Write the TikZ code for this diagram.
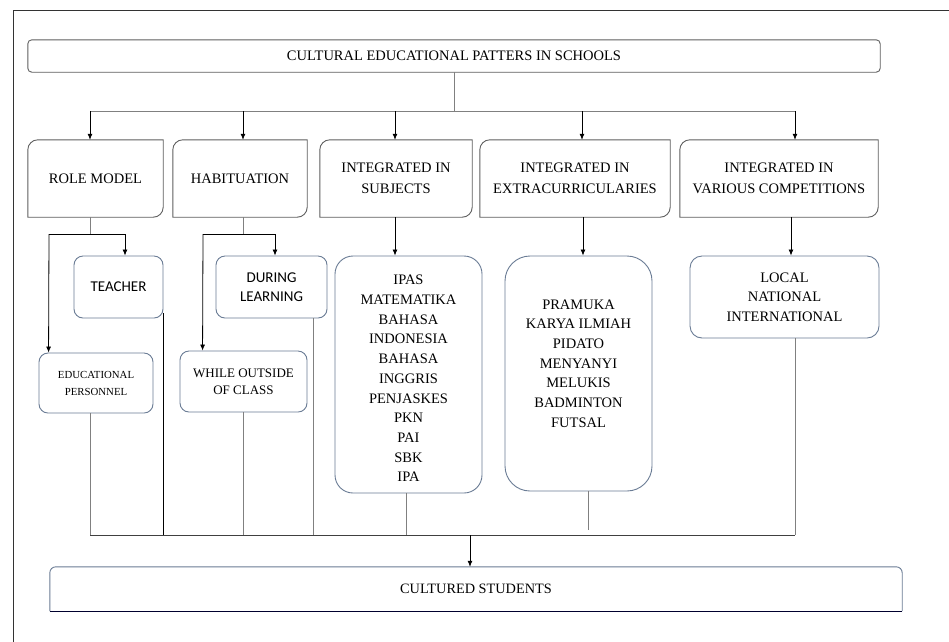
\documentclass[tikz,border=0pt]{standalone}
\usepackage{fontspec}
\setmainfont{Liberation Serif}
\newfontfamily\carl{Carlito}
\usetikzlibrary{arrows.meta}
\definecolor{gline}{HTML}{808080}
\definecolor{bline}{HTML}{5F5F5F}
\definecolor{blueline}{HTML}{6A7C95}
\tikzset{
  conn/.style={draw=gline, line width=0.9pt},
  darkconn/.style={draw=black, line width=0.8pt},
  arr/.style={draw=black, line width=0.8pt, -{Latex[length=6pt,width=5pt]}},
  holder/.style={rectangle, inner sep=0pt, align=center, text=black},
  lvltwo/.style={holder, font=\fontsize{14.5}{21}\selectfont},
  listtxt/.style={holder, font=\fontsize{14.5}{19.7}\selectfont},
}
\newcommand{\diagshape}[2]{% node, radius
  \draw[bline, line width=0.9pt] (#1.south west) -- ([yshift=-#2]#1.north west)
    arc[start angle=180,end angle=90,radius=#2] -- (#1.north east)
    -- ([yshift=#2]#1.south east) arc[start angle=0,end angle=-90,radius=#2] -- cycle;}
\begin{document}
\begin{tikzpicture}[x=1pt,y=1pt]
\useasboundingbox (0,0) rectangle (949,-641);
\fill[white] (0,0) rectangle (949,-641);
% outer frame
\draw[black!80, line width=1pt] (13,-10) rectangle (970,-660);

% top box
\node[holder, minimum width=852, minimum height=32, font=\fontsize{14.5}{16}\selectfont] (top) at (454,-56) {CULTURAL EDUCATIONAL PATTERS IN SCHOOLS};
\draw[bline, line width=0.9pt, rounded corners=4pt] (top.south west) rectangle (top.north east);

% level two
\node[lvltwo, minimum width=135, minimum height=77] (rm) at (95.5,-178.5) {ROLE MODEL};
\node[lvltwo, minimum width=134, minimum height=77] (hab) at (240,-178.5) {HABITUATION};
\node[lvltwo, minimum width=152, minimum height=77] (subj) at (396,-178.5) {INTEGRATED IN\\SUBJECTS};
\node[lvltwo, minimum width=190, minimum height=77] (extra) at (575,-178.5) {INTEGRATED IN\\EXTRACURRICULARIES};
\node[lvltwo, minimum width=198, minimum height=77] (comp) at (779,-178.5) {INTEGRATED IN\\VARIOUS COMPETITIONS};
\diagshape{rm}{10pt}
\diagshape{hab}{10pt}
\diagshape{subj}{10pt}
\diagshape{extra}{10pt}
\diagshape{comp}{10pt}

% level three
\tikzset{lthree/.style={holder, draw=blueline, line width=0.9pt, rounded corners=9pt}}
\node[lthree, minimum width=89, minimum height=62, font=\carl\fontsize{15}{19}\selectfont] (teacher) at (118.5,-287) {TEACHER};
\node[lthree, minimum width=114, minimum height=60, font=\fontsize{10.8}{17}\selectfont] (ep) at (96,-383) {EDUCATIONAL\\PERSONNEL};
\node[lthree, minimum width=111, minimum height=62, font=\carl\fontsize{15}{19}\selectfont] (dl) at (271.5,-287) {DURING\\LEARNING};
\node[lthree, minimum width=127, minimum height=61, font=\fontsize{13}{17}\selectfont] (woc) at (243.5,-381.5) {WHILE OUTSIDE\\OF CLASS};
\node[lthree, rounded corners=18pt, minimum width=147, minimum height=237] (subjlist) at (408.5,-374.5) {};
\node[listtxt] at ([yshift=-4]subjlist.center) {IPAS\\MATEMATIKA\\BAHASA\\INDONESIA\\BAHASA\\INGGRIS\\PENJASKES\\PKN\\PAI\\SBK\\IPA};
\node[lthree, rounded corners=25pt, minimum width=147, minimum height=235] (extralist) at (578.5,-373.5) {};
\node[listtxt] at ([yshift=10]extralist.center) {PRAMUKA\\KARYA ILMIAH\\PIDATO\\MENYANYI\\MELUKIS\\BADMINTON\\FUTSAL};
\node[lthree, rounded corners=12pt, minimum width=189, minimum height=82, font=\fontsize{14.5}{19.7}\selectfont] (complist) at (784.5,-297) {LOCAL\\NATIONAL\\INTERNATIONAL};

% bottom box
\node[holder, minimum width=852, minimum height=44, font=\fontsize{14.3}{16}\selectfont] (cs) at (476,-589) {CULTURED STUDENTS};
\draw[blueline, line width=0.9pt] (cs.south west) -- ([yshift=-6pt]cs.north west) arc[start angle=180,end angle=90,radius=6pt]
  -- ([xshift=-6pt]cs.north east) arc[start angle=90,end angle=0,radius=6pt] -- (cs.south east);
\draw[black!70!blue!60!black, line width=1pt] (cs.south west) -- (cs.south east);

% top distribution
\coordinate (bar) at (0,-111);
\draw[conn] (top.south) -- (top.south |- bar);
\draw[conn] ([xshift=-5.5]rm.north |- bar) -- ([xshift=16]comp.north |- bar);
\draw[arr] ([xshift=-5.5]rm.north |- bar) -- ([xshift=-5.5]rm.north);
\draw[arr] ([xshift=3]hab.north |- bar) -- ([xshift=3]hab.north);
\draw[arr] ([xshift=-1]subj.north |- bar) -- ([xshift=-1]subj.north);
\draw[arr] ([xshift=7]extra.north |- bar) -- ([xshift=7]extra.north);
\draw[arr] ([xshift=16]comp.north |- bar) -- ([xshift=16]comp.north);

% role model branch
\coordinate (rmj) at (90,-234);
\draw[conn] ([xshift=-5.5]rm.south) -- (rmj);
\draw[darkconn] (rmj) -- (125,-234);
\draw[darkconn] (rmj) -- (49,-234);
\draw[arr] (125,-234) -- ([xshift=6.5]teacher.north);
\draw[arr] (49,-234) -- ([xshift=10]ep.north west);

% habituation branch
\coordinate (habj) at (243,-234);
\draw[conn] ([xshift=3]hab.south) -- (habj);
\draw[darkconn] (habj) -- (275,-234);
\draw[darkconn] (habj) -- (203,-234);
\draw[arr] (275,-234) -- ([xshift=3.5]dl.north);
\draw[arr] (203,-234) -- ([xshift=23]woc.north west);

% subjects, extra, competitions
\draw[arr] ([xshift=-1]subj.south) -- ([xshift=-1]subj.south |- subjlist.north);
\draw[arr] ([xshift=8]extra.south) -- ([xshift=8]extra.south |- extralist.north);
\draw[arr] ([xshift=12]comp.south) -- ([xshift=12]comp.south |- complist.north);

% collection
\coordinate (bot) at (0,-535);
\draw[conn] ([xshift=-6]ep.south) -- ([xshift=-6]ep.south |- bot);
\draw[darkconn] ([yshift=5]teacher.south east) -- (teacher.south east |- bot);
\draw[conn] ([xshift=-0.5]woc.south) -- ([xshift=-0.5]woc.south |- bot);
\draw[conn] ([xshift=-14]dl.south east) -- ([xshift=-14]dl.south east |- bot);
\draw[conn] ([xshift=-2.5]subjlist.south) -- ([xshift=-2.5]subjlist.south |- bot);
\draw[conn] ([xshift=9.5]extralist.south) -- ([xshift=9.5,yshift=5]extralist.south |- bot);
\draw[conn] ([xshift=10.5]complist.south) -- ([xshift=10.5]complist.south |- bot);
\draw[darkconn, draw=black!75] ([xshift=-6]ep.south |- bot) -- ([xshift=10.5]complist.south |- bot);
\draw[arr] ([xshift=-6]cs.north |- bot) -- ([xshift=-6]cs.north);
\end{tikzpicture}
\end{document}
